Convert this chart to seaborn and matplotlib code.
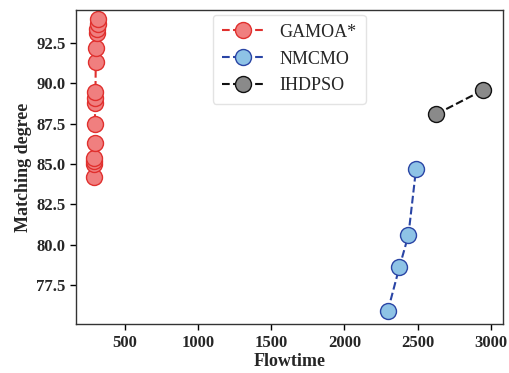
import matplotlib
matplotlib.use("Agg")
import matplotlib.pyplot as plt
import seaborn as sns
import pandas as pd

gamoa_x = [288, 290, 292, 293, 295, 296, 298, 299, 300, 302, 305, 308, 312, 316, 320]
gamoa_y = [84.2, 85.0, 85.2, 85.4, 86.3, 87.5, 88.8, 89.1, 89.5, 91.3, 92.2, 93.1, 93.4, 93.7, 94.0]
nmcmo_x = [2296, 2375, 2437, 2489]
nmcmo_y = [75.9, 78.6, 80.6, 84.7]
ihdpso_x = [2628, 2949]
ihdpso_y = [88.1, 89.6]

sns.set_theme(style="white")
plt.rcParams['font.family'] = ['Liberation Serif', 'DejaVu Serif']

fig, ax = plt.subplots(figsize=(5.09, 3.73), dpi=100)
fig.subplots_adjust(left=0.149, right=0.988, top=0.973, bottom=0.131)

series = [
    ("GAMOA*", gamoa_x, gamoa_y, "#F07F7F", "#E0302E"),
    ("NMCMO", nmcmo_x, nmcmo_y, "#8EC3E6", "#2A45A5"),
    ("IHDPSO", ihdpso_x, ihdpso_y, "#8A8A8A", "#111111"),
]
for name, xs, ys, fc, ec in series:
    df = pd.DataFrame({"x": xs, "y": ys})
    sns.lineplot(data=df, x="x", y="y", ax=ax, sort=False, color=ec,
                 linestyle="--", linewidth=1.5, marker="o", markersize=11.5,
                 markerfacecolor=fc, markeredgecolor=ec, markeredgewidth=1.0,
                 label=name)

ax.set_xlim(166, 3082)
ax.set_ylim(75.08, 94.55)
ax.set_xticks([500, 1000, 1500, 2000, 2500, 3000])
ax.set_yticks([77.5, 80.0, 82.5, 85.0, 87.5, 90.0, 92.5])
ax.set_yticklabels(["77.5", "80.0", "82.5", "85.0", "87.5", "90.0", "92.5"])
ax.tick_params(axis="both", which="major", direction="out", length=4, width=1,
               labelsize=12, bottom=True, left=True, color="black")
for lab in ax.get_xticklabels() + ax.get_yticklabels():
    lab.set_fontweight("bold")
ax.set_xlabel("Flowtime", fontsize=13, fontweight="bold", labelpad=2)
ax.set_ylabel("Matching degree", fontsize=13, fontweight="bold", labelpad=3)
for s in ax.spines.values():
    s.set_color("#333333")
    s.set_linewidth(1.0)

leg = ax.legend(loc="upper center", bbox_to_anchor=(0.5, 1.0), fontsize=13,
                frameon=True, handlelength=2.3, handletextpad=0.9,
                borderpad=0.5, labelspacing=0.55, borderaxespad=0.25)
leg.get_frame().set_edgecolor("#dddddd")

fig.savefig("out.png", dpi=100)
